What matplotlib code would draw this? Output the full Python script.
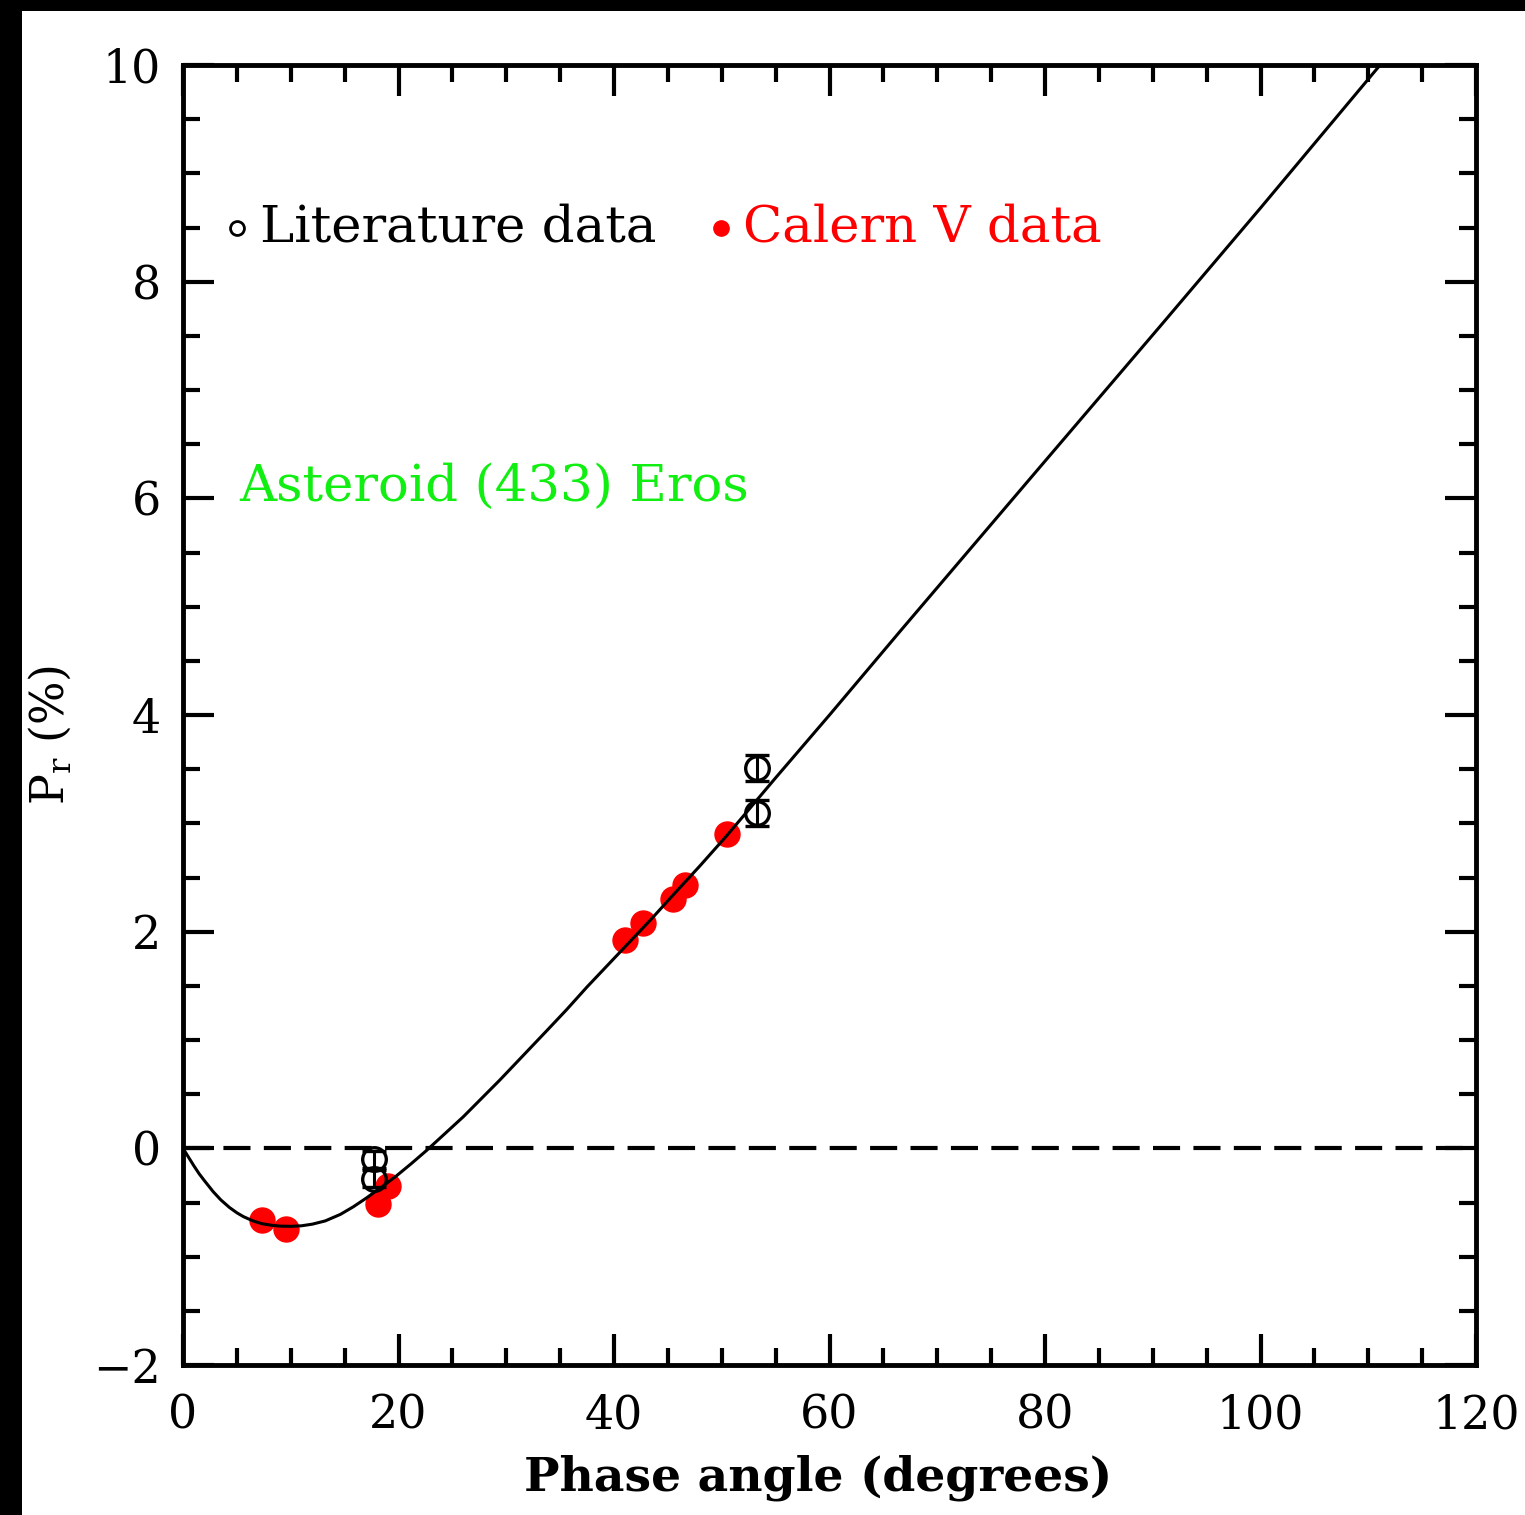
import matplotlib
matplotlib.use("Agg")
import matplotlib.pyplot as plt
from matplotlib.patches import Rectangle

# ---- data ----
# fitted phase curve
curve_x = [0.0, 0.5, 1.0, 1.5, 2.0, 2.8, 3.5, 4.3, 5.0, 5.6, 6.5, 7.3, 8.2, 9.0,
           10.0, 11.0, 12.0, 13.2, 14.6, 15.8, 17.0, 18.4, 19.8, 21.2, 22.6,
           24.3, 26.0, 27.7, 29.4, 31.6, 33.8, 35.6, 37.5, 39.5, 41.5, 43.5,
           45.5, 48.0, 50.5, 55.0, 60.0, 66.7, 78.6, 90.7, 100.0, 111.1]
curve_y = [0.0, -0.08, -0.16, -0.235, -0.30, -0.40, -0.475, -0.545, -0.595, -0.63,
           -0.67, -0.695, -0.71, -0.718, -0.72, -0.715, -0.70, -0.67, -0.61,
           -0.54, -0.46, -0.36, -0.255, -0.14, -0.02, 0.135, 0.29, 0.46, 0.63,
           0.86, 1.09, 1.28, 1.49, 1.70, 1.91, 2.12, 2.34, 2.61, 2.89, 3.42,
           4.00, 4.79, 6.18, 7.59, 8.68, 10.0]

# Calern V data (filled red)
calern_x = [7.3, 9.6, 18.1, 19.0, 41.0, 42.7, 45.5, 46.6, 50.5]
calern_y = [-0.665, -0.74, -0.51, -0.35, 1.92, 2.08, 2.30, 2.43, 2.90]

# literature data (open circles with error bars)
lit_x = [17.7, 17.7, 53.3, 53.3]
lit_y = [-0.10, -0.28, 3.51, 3.10]
lit_err = [0.08, 0.08, 0.12, 0.12]

x_ticks = [0, 20, 40, 60, 80, 100, 120]
y_ticks = [-2, 0, 2, 4, 6, 8, 10]
y_ticklabels = ["\u22122", "0", "2", "4", "6", "8", "10"]

plt.rcParams['font.family'] = ['DejaVu Serif']
plt.rcParams['mathtext.fontset'] = 'dejavuserif'

fig = plt.figure(figsize=(15.25, 15.15), dpi=100)
fig.patch.set_facecolor('white')
# black strips on left and top edges
fig.add_artist(Rectangle((0, 0), 22/1525, 1, transform=fig.transFigure,
                         facecolor='black', edgecolor='none', zorder=10))
fig.add_artist(Rectangle((0, 1 - 11/1515), 1, 11/1515, transform=fig.transFigure,
                         facecolor='black', edgecolor='none', zorder=10))

ax = fig.add_axes([183/1525, 150/1515, (1476-183)/1525, (1365-65)/1515])

ax.axhline(0, color='black', lw=3, dashes=(6.5, 3.2), zorder=1)
ax.plot(curve_x, curve_y, color='black', lw=2.2, zorder=3)

ax.plot(calern_x, calern_y, 'o', color='red', markersize=18, mec='red', zorder=2)
ax.errorbar(lit_x, lit_y, yerr=lit_err, fmt='o', mfc='none', mec='black', mew=2.4,
            markersize=17, ecolor='black', elinewidth=2.2, capsize=8.5, capthick=4,
            zorder=4)

# in-plot labels
ax.plot([5.0], [8.5], 'o', mfc='none', mec='black', mew=2, markersize=10)
ax.text(7.1, 8.5, "Literature data", fontsize=37, color='black', va='center', ha='left')
ax.plot([49.9], [8.5], 'o', color='red', markersize=11)
ax.text(52.0, 8.5, "Calern V data", fontsize=37, color='red', va='center', ha='left')
ax.text(5.2, 6.1, "Asteroid (433) Eros", fontsize=37, color='#11ee11', va='center', ha='left')

ax.set_xlim(0, 120)
ax.set_ylim(-2, 10)
ax.set_xticks(x_ticks)
ax.set_yticks(y_ticks)
ax.set_yticklabels(y_ticklabels)
ax.set_xticks([v for v in range(0, 121, 5) if v % 20 != 0], minor=True)
ax.set_yticks([v / 2 for v in range(-4, 21) if v % 4 != 0], minor=True)

ax.tick_params(which='both', direction='in', top=True, right=True, width=3,
               labelsize=33)
ax.tick_params(axis='x', which='major', pad=20)
ax.tick_params(axis='y', which='major', pad=16)
ax.tick_params(which='major', length=22)
ax.tick_params(which='minor', length=12)
for s in ax.spines.values():
    s.set_linewidth(3.5)

ax.set_xlabel("Phase angle (degrees)", fontsize=34, fontweight='bold')
ax.xaxis.set_label_coords((818-183)/1293, -(1478-1365)/1300)
ax.set_ylabel(r"P$_{\mathrm{r}}$ (%)", fontsize=33)
ax.yaxis.set_label_coords((50-183)/1293, (1365-735)/1300)
ax.xaxis.label.set_va('center')
ax.yaxis.label.set_va('center')

fig.savefig("out.png", dpi=100, facecolor='white')
